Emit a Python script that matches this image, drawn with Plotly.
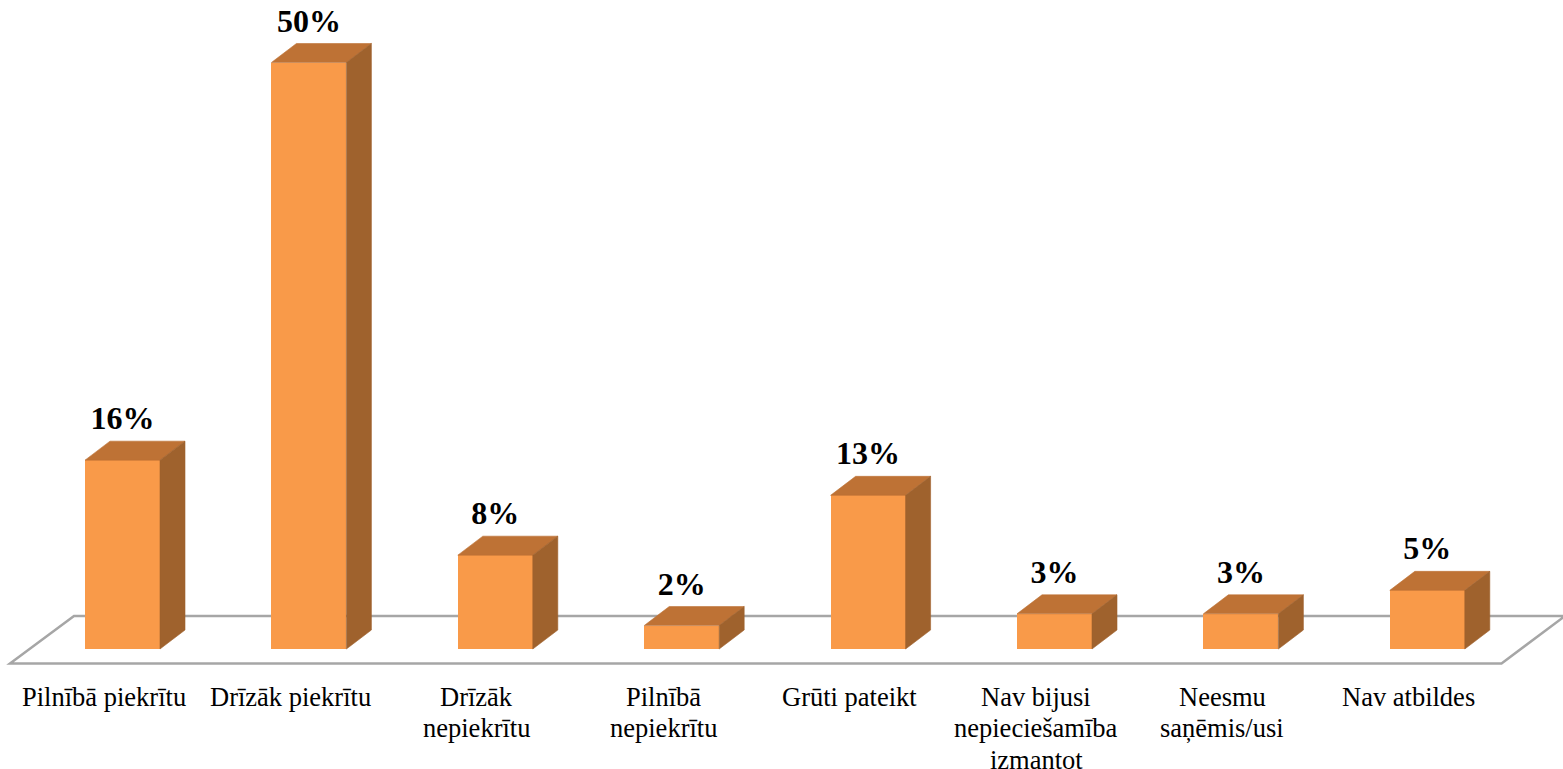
import plotly.graph_objects as go

categories = ["Pilnībā piekrītu", "Drīzāk piekrītu", "Drīzāk nepiekrītu", "Pilnībā nepiekrītu",
              "Grūti pateikt", "Nav bijusi nepieciešamība izmantot", "Neesmu saņēmis/usi", "Nav atbildes"]
category_lines = [["Pilnībā piekrītu"], ["Drīzāk piekrītu"], ["Drīzāk", "nepiekrītu"], ["Pilnībā", "nepiekrītu"],
                  ["Grūti pateikt"], ["Nav bijusi", "nepieciešamība", "izmantot"], ["Neesmu", "saņēmis/usi"], ["Nav atbildes"]]
values = [16.1, 50, 8, 2, 13.1, 3, 3, 5]
value_labels = ["16%", "50%", "8%", "2%", "13%", "3%", "3%", "5%"]

W, H = 1563, 769
STEP = 186.4          # px between bars
PX_PER_PCT = 11.73    # px per percentage point
X0, Y0 = 122.5, 649   # px position of first bar centre / baseline
BAR_W = 75 / STEP
DX = 25 / STEP
DY = 19 / PX_PER_PCT

FRONT, TOP, SIDE = "#F99A49", "#BE7235", "#9F622D"
SERIF = "Liberation Serif, Times New Roman, serif"

xr = [-X0 / STEP, (W - X0) / STEP]
yr = [(Y0 - H) / PX_PER_PCT, Y0 / PX_PER_PCT]
px = lambda p: (p - X0) / STEP
py = lambda p: (Y0 - p) / PX_PER_PCT

fig = go.Figure()
idx = list(range(len(values)))
fig.add_bar(x=idx, y=values, width=BAR_W, marker=dict(color=FRONT, line=dict(width=0)),
            hoverinfo="skip", showlegend=False)

for i, v in zip(idx, values):
    l, r = i - BAR_W / 2, i + BAR_W / 2
    fig.add_scatter(x=[l, r, r + DX, l + DX, l], y=[v, v, v + DY, v + DY, v], mode="lines",
                    fill="toself", fillcolor=TOP, line=dict(width=0.6, color=TOP),
                    hoverinfo="skip", showlegend=False)
    fig.add_scatter(x=[r, r + DX, r + DX, r, r], y=[0, DY, v + DY, v, 0], mode="lines",
                    fill="toself", fillcolor=SIDE, line=dict(width=0.6, color=SIDE),
                    hoverinfo="skip", showlegend=False)

fig.add_scatter(x=idx, y=[v + 39 / PX_PER_PCT for v in values], mode="text", text=value_labels,
                textposition="middle center", textfont=dict(family=SERIF, size=32, color="#000000"),
                texttemplate="<b>%{text}</b>", hoverinfo="skip", showlegend=False)

# floor of the 3D chart, behind the bars
floor = [(10, 663.5), (74, 616), (W + 2, 616), (1501.5, 663.5)]
path = "M " + " L ".join(f"{px(a)} {py(b)}" for a, b in floor) + " Z"
fig.add_shape(type="path", path=path, xref="x", yref="y", layer="below",
              line=dict(color="#A6A6A6", width=2.5), fillcolor="#FFFFFF")

# category labels, one annotation per line for the reference's line spacing
for i, lines in zip(idx, category_lines):
    for k, t in enumerate(lines):
        fig.add_annotation(x=i - 18.5 / STEP, y=py(697 + 31.3 * k), text=t, showarrow=False,
                           xanchor="center", yanchor="middle",
                           font=dict(family=SERIF, size=26.5, color="#000000"))

fig.update_layout(width=W, height=H, margin=dict(l=0, r=0, t=0, b=0), autosize=False,
                  paper_bgcolor="#FFFFFF", plot_bgcolor="#FFFFFF", showlegend=False, bargap=0,
                  xaxis=dict(range=xr, visible=False, fixedrange=True),
                  yaxis=dict(range=yr, visible=False, fixedrange=True))
fig.write_html("out.html", config={"displayModeBar": False},
               post_script="document.body.style.margin='0';document.body.style.overflow='hidden';")
